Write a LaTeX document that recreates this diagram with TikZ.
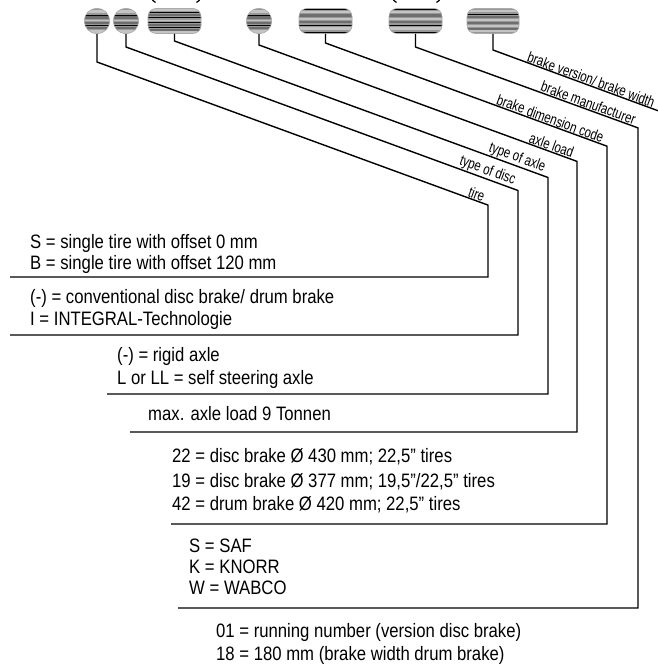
\documentclass[tikz,border=0pt]{standalone}
\usepackage{fontspec}
\setmainfont{Liberation Sans}
\newfontfamily\descfont[FakeStretch=0.86]{Liberation Sans}
\newfontfamily\tagfont[FakeStretch=0.77]{Liberation Sans}
\usetikzlibrary{calc}
\definecolor{stripelight}{HTML}{C4C4C4}
\definecolor{stripedark}{HTML}{6E6E6E}
\definecolor{stripebase}{HTML}{989898}
\definecolor{badgeedge}{HTML}{ABABAB}
\begin{document}
\begin{tikzpicture}[x=1bp,y=-1bp,
  lead/.style={line width=1.4bp, line join=miter},
  desc/.style={anchor=base west, inner sep=0pt, font=\descfont\fontsize{19.5}{20}\selectfont},
  tag/.style={rotate=-20.1, inner sep=0.8bp, font=\tagfont\fontsize{15}{16}\selectfont},
  badgebase/.style={inner sep=0pt, fill=stripebase, draw=badgeedge, line width=0.6bp},
  roundbadge/.style={badgebase, circle, minimum size=25.5bp},
  longbadge/.style={badgebase, rectangle, rounded corners=8bp, minimum height=25bp, minimum width=#1},
  stripesA/.style={path picture={
    \foreach \o/\c/\w in {-9.5/stripelight/3,-6/black/0.8,-3.5/stripedark/2.2,-0.5/stripelight/1.6,2/stripedark/1.6,4.5/black/1,7.5/stripedark/2,10.5/stripelight/2.4}
      {\draw[draw=\c, line width=\w bp] ($(path picture bounding box.west)+(-2,\o)$) -- ++(70,0);}
  }},
  stripesB/.style={path picture={
    \foreach \o/\c/\w in {-11/stripelight/1.6,-8.5/black/1.1,-5.5/stripedark/2,-3/black/1,-0.5/stripelight/1.5,1.5/black/1.2,4/stripedark/2,6.5/black/1,9/stripedark/1.6,11/stripelight/1.6}
      {\draw[draw=\c, line width=\w bp] ($(path picture bounding box.west)+(-2,\o)$) -- ++(70,0);}
  }},
  stripesC/.style={path picture={
    \foreach \o/\c/\w in {-11.8/black/1,-9/stripelight/2.2,-5.5/stripedark/2.6,-2/stripelight/1.6,1/stripedark/2.4,4.5/black/0.9,7.5/stripelight/2.2,11.8/black/1}
      {\draw[draw=\c, line width=\w bp] ($(path picture bounding box.west)+(-2,\o)$) -- ++(70,0);}
  }},
  stripesD/.style={path picture={
    \foreach \o/\c/\w in {-10/stripelight/2.4,-7/black/0.9,-4/stripedark/2,-1/stripelight/1.8,2/stripedark/1.8,5/stripelight/1.6,8/stripedark/2,10.5/stripelight/2}
      {\draw[draw=\c, line width=\w bp] ($(path picture bounding box.west)+(-2,\o)$) -- ++(70,0);}
  }},
]
\useasboundingbox (0,0) rectangle (658,664);

% partially visible brackets at the top edge
\draw[line width=1.2bp] (151.5,-4) .. controls (152,0) and (153,1.5) .. (155.5,2.5);
\draw[line width=1.2bp] (200.5,-4) .. controls (200,0) and (199,1.5) .. (196.5,2.5);
\draw[line width=1.2bp] (392.5,-4) .. controls (393,0) and (394,1.5) .. (396.5,2.5);
\draw[line width=1.2bp] (440.5,-4) .. controls (440,0) and (439,1.5) .. (436.5,2.5);

% badges
\node[roundbadge, stripesA] (b1) at (97,21) {};
\node[roundbadge, stripesA] (b2) at (126,21) {};
\node[longbadge=53bp, stripesB] (b3) at (174.5,21) {};
\node[roundbadge, stripesA] (b4) at (259,21) {};
\node[longbadge=53bp, stripesC] (b5) at (325.5,21) {};
\node[longbadge=53bp, stripesC] (b6) at (415.5,21) {};
\node[longbadge=52bp, stripesD] (b7) at (493,21) {};

% corners and free ends
\coordinate (k1) at (488,205.1);
\coordinate (k2) at (518,190.5);
\coordinate (k3) at (548,177.5);
\coordinate (k4) at (577,161.4);
\coordinate (k5) at (607,146.2);
\coordinate (k6) at (638,127.9);
\coordinate (k7) at (700,126.2);
\coordinate (e1) at (10,277);
\coordinate (e2) at (10,335);
\coordinate (e3) at (107,394);
\coordinate (e4) at (130,432);
\coordinate (e5) at (171,524);
\coordinate (e6) at (178,608);

% leader lines
\draw[lead] (b1.south) -- (97,62) -- (k1) |- (e1);
\draw[lead] (b2.south) -- (126,47) -- (k2) |- (e2);
\draw[lead] (b3.south) -- (174.5,41) -- (k3) |- (e3);
\draw[lead] (b4.south) -- (259,45) -- (k4) |- (e4);
\draw[lead] (b5.south) -- (325.5,43) -- (k5) |- (e5);
\draw[lead] (b6.south) -- (415.5,47) -- (k6) |- (e6);
\draw[lead] (b7.south) -- (493,50) -- (k7);

% rotated labels
\node[tag, anchor=south east] (t1) at ($(k1)+(-5,-1.83)$) {tire};
\node[tag, anchor=south east] (t2) at ($(k2)+(-5,-1.83)$) {type of disc};
\node[tag, anchor=south east] (t3) at ($(k3)+(-5,-1.83)$) {type of axle};
\node[tag, anchor=south east] (t4) at ($(k4)+(-5,-1.83)$) {axle load};
\node[tag, anchor=south east] (t5) at ($(k5)+(-5,-1.83)$) {brake dimension code};
\node[tag, anchor=south east] (t6) at ($(k6)+(-4,-1.46)$) {brake manufacturer};
\node[tag, anchor=south west] (t7) at (525,62.1) {brake version/ brake width};

% descriptions
\node[desc] (d1a) at (30,248) {S = single tire with offset 0 mm};
\node[desc] (d1b) at (30,269) {B = single tire with offset 120 mm};
\node[desc] (d2a) at (30,303) {(-) = conventional disc brake/ drum brake};
\node[desc] (d2b) at (30,325) {I = INTEGRAL-Technologie};
\node[desc] (d3a) at (117,361) {(-) = rigid axle};
\node[desc] (d3b) at (117,384) {L or LL = self steering axle};
\node[desc] (d4a) at (148,420) {max. axle load 9 Tonnen};
\node[desc] (d5a) at (172,462) {22 = disc brake Ø 430 mm; 22,5” tires};
\node[desc] (d5b) at (172,487) {19 = disc brake Ø 377 mm; 19,5”/22,5” tires};
\node[desc] (d5c) at (172,510) {42 = drum brake Ø 420 mm; 22,5” tires};
\node[desc] (d6a) at (189,552) {S = SAF};
\node[desc] (d6b) at (189,573) {K = KNORR};
\node[desc] (d6c) at (189,594) {W = WABCO};
\node[desc] (d7a) at (216,637) {01 = running number (version disc brake)};
\node[desc] (d7b) at (216,660) {18 = 180 mm (brake width drum brake)};
\end{tikzpicture}
\end{document}
